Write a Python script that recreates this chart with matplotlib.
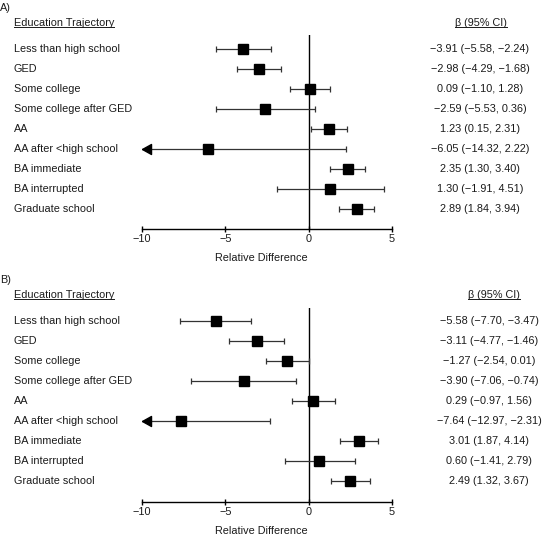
import matplotlib
matplotlib.use('Agg')
import matplotlib.pyplot as plt
from matplotlib.lines import Line2D
from matplotlib.transforms import blended_transform_factory, IdentityTransform

plt.rcParams['font.family'] = ['Liberation Sans', 'DejaVu Sans']

labels = ['Less than high school', 'GED', 'Some college', 'Some college after GED',
          'AA', 'AA after <high school', 'BA immediate', 'BA interrupted', 'Graduate school']

a_est = [-3.91, -2.98, 0.09, -2.59, 1.23, -6.05, 2.35, 1.30, 2.89]
a_lo = [-5.58, -4.29, -1.10, -5.53, 0.15, -14.32, 1.30, -1.91, 1.84]
a_hi = [-2.24, -1.68, 1.28, 0.36, 2.31, 2.22, 3.40, 4.51, 3.94]

b_est = [-5.58, -3.11, -1.27, -3.90, 0.29, -7.64, 3.01, 0.60, 2.49]
b_lo = [-7.70, -4.77, -2.54, -7.06, -0.97, -12.97, 1.87, -1.41, 1.32]
b_hi = [-3.47, -1.46, 0.01, -0.74, 1.56, -2.31, 4.14, 2.79, 3.67]

xticks = [-10, -5, 0, 5]

W, H = 547, 535
FS = 7.8
TXT = '#1a1a1a'
fig = plt.figure(figsize=(W / 100, H / 100), dpi=100)


def fx(px):
    return px / W


def fy(py):
    return 1 - py / H


def fmt(v):
    return ('%.2f' % v).replace('-', '\u2212')


# left-pointing triangle with its tip at the data point
arrow = [(0, 0), (1.8, 1), (1.8, -1), (0, 0)]

underlined = []


def panel(tag, top, bottom, row0, est, lo, hi, stat_x, head_x):
    ax = fig.add_axes([fx(142), fy(bottom), fx(392) - fx(142), (bottom - top) / H])
    ax.set_xlim(-10, 5)
    ax.set_ylim((bottom - row0) / 20, (top - row0) / 20)
    for s in ['top', 'right', 'left']:
        ax.spines[s].set_visible(False)
    ax.spines['bottom'].set_linewidth(1.0)
    ax.set_yticks([])
    ax.set_xticks(xticks)
    ax.tick_params(axis='x', direction='inout', length=4.5, width=1.0, pad=1.5,
                   labelsize=FS, labelcolor=TXT)
    ax.axvline(0, color='black', lw=1.0)

    xmin = ax.get_xlim()[0]
    for i in range(len(labels)):
        ax.hlines(i, lo[i], hi[i], color='#333333', lw=0.9)
        ax.plot([hi[i]], [i], marker='|', ms=4.5, mew=0.9, color='#333333')
        if lo[i] >= xmin:
            ax.plot([lo[i]], [i], marker='|', ms=4.5, mew=0.9, color='#333333')
        else:
            ax.plot([xmin], [i], marker=arrow, ms=13, color='black', clip_on=False)
        ax.plot([est[i]], [i], marker='s', ms=7.6, color='black', zorder=5)

    tr = blended_transform_factory(fig.transFigure, ax.transData)
    for i, lab in enumerate(labels):
        ax.text(fx(14), i, lab, transform=tr, ha='left', va='center',
                fontsize=FS, color=TXT, clip_on=False)
        s = '%s (%s, %s)' % (fmt(est[i]), fmt(lo[i]), fmt(hi[i]))
        ax.text(fx(stat_x), i, s, transform=tr, ha='center', va='center',
                fontsize=FS, color=TXT, clip_on=False)

    hy = row0 - 26.5
    fig.text(fx(0), fy(row0 - 41), tag, ha='left', va='center', fontsize=FS, color=TXT)
    t1 = fig.text(fx(14), fy(hy), 'Education Trajectory', ha='left', va='center',
                  fontsize=FS, color=TXT)
    t2 = fig.text(fx(head_x), fy(hy), '\u03b2 (95% CI)', ha='center', va='center',
                  fontsize=FS, color=TXT)
    underlined.extend([t1, t2])
    fig.text(fx(261), fy(bottom + 29), 'Relative Difference', ha='center', va='center',
             fontsize=FS, color=TXT)
    return ax


panel('A)', 35, 229, 49, a_est, a_lo, a_hi, 480, 481)
panel('B)', 308, 502, 321, b_est, b_lo, b_hi, 489, 494)

fig.canvas.draw()
r = fig.canvas.get_renderer()
for t in underlined:
    bb = t.get_window_extent(r)
    y = bb.y0 + 1.0
    fig.add_artist(Line2D([bb.x0, bb.x1], [y, y], transform=IdentityTransform(),
                          color=TXT, lw=0.7))

fig.savefig('out.png', dpi=100)
